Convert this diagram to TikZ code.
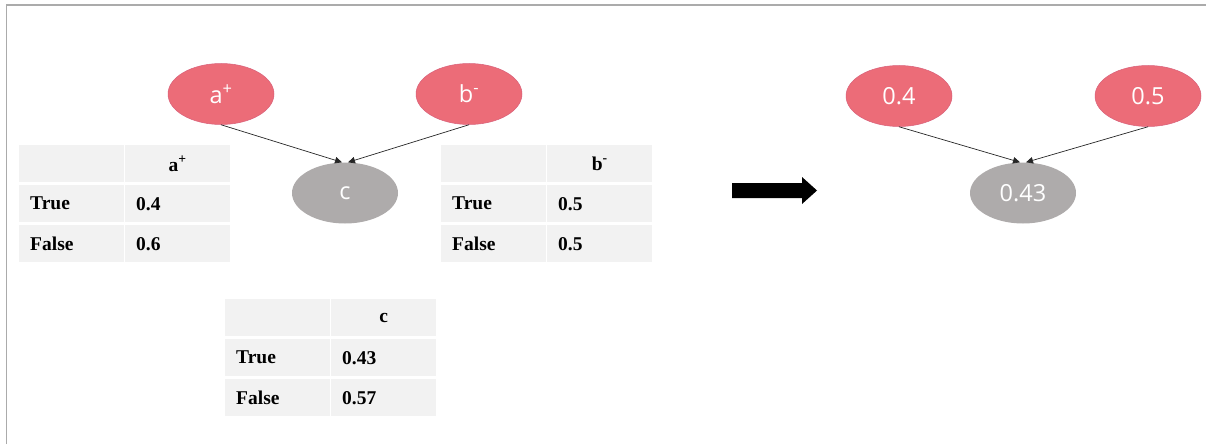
\documentclass[tikz,border=0pt]{standalone}
\usepackage{fontspec}
\setmainfont{Liberation Serif}
\newfontfamily\ellfont{Open Sans}
\usetikzlibrary{arrows.meta,shapes.geometric}
\definecolor{nodepink}{HTML}{EC6C78}
\definecolor{pinkedge}{HTML}{D8607A}
\definecolor{nodegray}{HTML}{AEABAB}
\definecolor{cellgray}{HTML}{F2F2F2}
\definecolor{framegray}{HTML}{ABABAB}
\tikzset{
  bnode/.style={ellipse, inner sep=0pt, minimum width=106pt, minimum height=61pt,
    text=white, font=\ellfont\fontsize{23.5}{27}\selectfont},
  pnode/.style={bnode, fill=nodepink, draw=pinkedge, line width=0.5pt},
  gnode/.style={bnode, fill=nodegray, draw=none},
  edge/.style={draw=black!85, line width=0.7pt, -{Triangle[length=7pt,width=6.5pt]}},
  cell/.style={rectangle, fill=cellgray, draw=none, anchor=north west,
    minimum height=37pt, inner xsep=11pt, inner ysep=0pt,
    font=\fontsize{19.5}{22}\selectfont\bfseries},
  lcell/.style={cell, text width=83pt, align=left},
  hcell/.style={cell, text width=83pt, align=center},
  bigarrow/.style={fill=black, draw=none}
}
\newcommand\cptable[6]{%
  \node[lcell] (#3h0) at (#1,#2) {};
  \node[hcell] (#3h1) at (#1+106,#2) {#4};
  \node[lcell] (#3t0) at (#1,#2+40) {True};
  \node[lcell] (#3t1) at (#1+106,#2+40) {#5};
  \node[lcell] (#3f0) at (#1,#2+80) {False};
  \node[lcell] (#3f1) at (#1+106,#2+80) {#6};
}
\begin{document}
\begin{tikzpicture}[x=1pt, y=-1pt]
\useasboundingbox (0,0) rectangle (1206,444);
\draw[framegray, line width=1.2pt] (6.5,444) -- (6.5,5) -- (1206,5);

% left network
\node[pnode] (a) at (221,94) {a\textsuperscript{+}};
\node[pnode] (b) at (469,94) {b\textsuperscript{-}};
\node[gnode] (c) at (345,193) {c};
\draw[edge] (a.south) -- ([xshift=-3pt]c.north);
\draw[edge] (b.south) -- ([xshift=3pt]c.north);

% tables
\cptable{19}{145}{ta}{a\textsuperscript{+}}{0.4}{0.6}
\cptable{441}{145}{tb}{b\textsuperscript{-}}{0.5}{0.5}
\cptable{225}{299}{tc}{c}{0.43}{0.57}

% big arrow
\fill[bigarrow] (732,183) -- (802,183) -- (802,177) -- (817,190.5) -- (802,204) -- (802,198) -- (732,198) -- cycle;

% right network
\node[pnode] (ra) at (899,96) {0.4};
\node[pnode] (rb) at (1148,96) {0.5};
\node[gnode] (rc) at (1023,193) {0.43};
\draw[edge] (ra.south) -- ([xshift=-3pt]rc.north);
\draw[edge] (rb.south) -- ([xshift=3pt]rc.north);
\end{tikzpicture}
\end{document}
